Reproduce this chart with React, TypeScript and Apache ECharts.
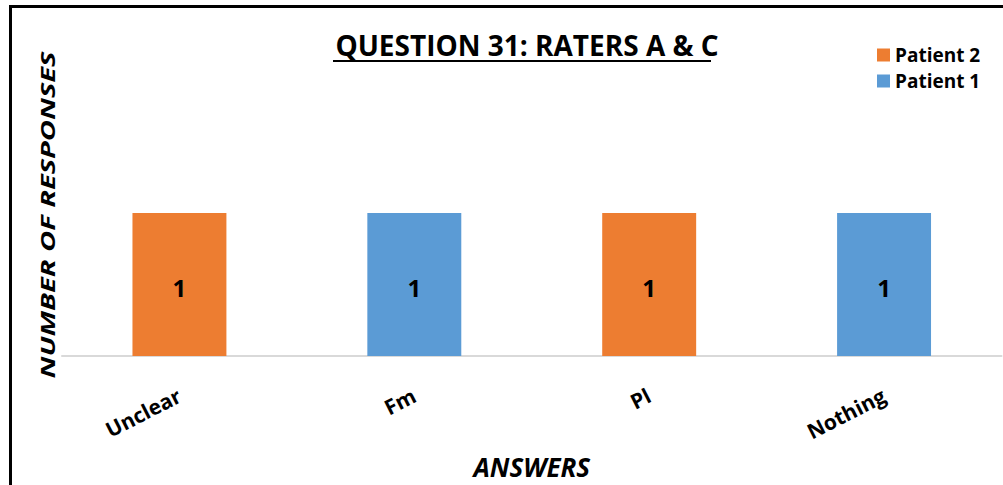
import React, { useEffect, useRef } from "react";
import * as echarts from "echarts";

const categories = ["Unclear", "Fm", "Pl", "Nothing"];
const patient2 = [1, null, 1, null];
const patient1 = [null, 1, null, 1];
const seriesNames = ["Patient 2", "Patient 1"];
const titleText = "QUESTION 31: RATERS A & C";
const xName = "ANSWERS";
const yName = "NUMBER OF RESPONSES";

const FONT = "'Open Sans', sans-serif";

export default function App() {
  const ref = useRef<HTMLDivElement>(null);
  useEffect(() => {
    if (!ref.current) return;
    const chart = echarts.init(ref.current, undefined, { renderer: "svg" });
    const labelStyle = {
      show: true,
      position: "inside",
      offset: [0, 3],
      color: "#000",
      fontFamily: FONT,
      fontWeight: "bold",
      fontSize: 24,
    };
    chart.setOption({
      animation: false,
      backgroundColor: "#fff",
      title: {
        text: titleText,
        left: 522,
        top: 26,
        textAlign: "center",
        textStyle: { fontFamily: FONT, fontWeight: "bold", fontSize: 28, color: "#000" },
      },
      legend: {
        orient: "vertical",
        left: 877,
        top: 45,
        padding: 0,
        itemWidth: 13,
        itemHeight: 13,
        itemGap: 6,
        icon: "rect",
        data: seriesNames,
        textStyle: { fontFamily: FONT, fontWeight: "bold", fontSize: 19, color: "#000", lineHeight: 20 },
      },
      grid: { left: 62, right: 1.5, top: 70, bottom: 127, containLabel: false },
      xAxis: {
        type: "category",
        data: categories,
        name: xName,
        nameLocation: "middle",
        nameGap: 98,
        nameTextStyle: { fontFamily: FONT, fontWeight: "bold", fontStyle: "italic", fontSize: 26, color: "#000" },
        axisLine: { lineStyle: { color: "#D9D9D9", width: 2 } },
        axisTick: { show: false },
        axisLabel: {
          rotate: 27,
          margin: 38,
          color: "#000",
          fontFamily: FONT,
          fontWeight: "bold",
          fontSize: 21,
        },
      },
      yAxis: {
        type: "value",
        min: 0,
        max: 2,
        show: false,
        splitLine: { show: false },
      },
      series: [
        {
          name: seriesNames[0],
          type: "bar",
          stack: "total",
          data: patient2,
          barWidth: "40%",
          itemStyle: { color: "#ED7D31" },
          label: labelStyle,
        },
        {
          name: seriesNames[1],
          type: "bar",
          stack: "total",
          data: patient1,
          barWidth: "40%",
          itemStyle: { color: "#5B9BD5" },
          label: labelStyle,
        },
      ],
      graphic: [
        {
          type: "rect",
          shape: { x: 10.5, y: 6.5, width: 1200, height: 700 },
          style: { fill: "none", stroke: "#000", lineWidth: 3 },
          silent: true,
        },
        {
          type: "line",
          shape: { x1: 333, y1: 61, x2: 711, y2: 61 },
          style: { stroke: "#000", lineWidth: 2 },
          silent: true,
        },
        {
          type: "text",
          x: 48,
          y: 215,
          rotation: Math.PI / 2,
          scaleX: 1.53,
          scaleY: 1,
          style: {
            text: yName,
            fontFamily: FONT,
            fontWeight: "bold",
            fontStyle: "italic",
            fontSize: 19,
            fill: "#000",
            align: "center",
            verticalAlign: "middle",
          },
        },
      ],
    });
    return () => chart.dispose();
  }, []);
  return (
    <div
      ref={ref}
      style={{ position: "absolute", left: 0, top: 0, width: 1003, height: 485, background: "#fff" }}
    />
  );
}
